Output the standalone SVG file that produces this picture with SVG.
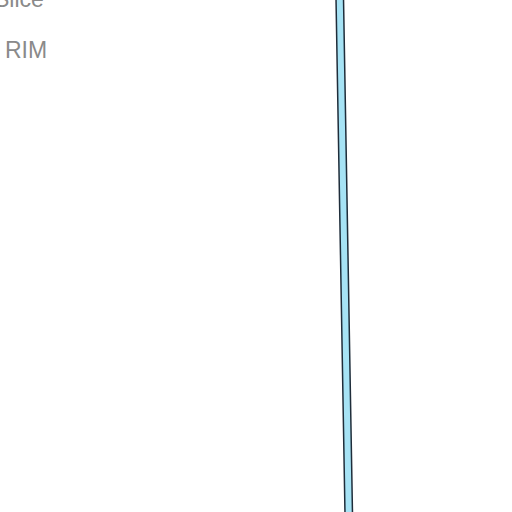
<svg xmlns="http://www.w3.org/2000/svg" width="512" height="512" viewBox="0 0 512 512">
<style>
.lbl{font-family:"Liberation Sans",Arial,sans-serif;font-size:23px;fill:#8a8a8a}
</style>
<rect width="512" height="512" fill="#ffffff"/>
<g id="labels">
<text class="lbl" x="-6" y="7">Slice</text>
<text class="lbl" x="5" y="58">RIM</text>
</g>
<g id="bar">
<polygon points="336,-2 343.5,-2 352.5,514 345,514" fill="#a6e3f5" stroke="#1f2d3a" stroke-width="1.5"/>
</g>
</svg>
